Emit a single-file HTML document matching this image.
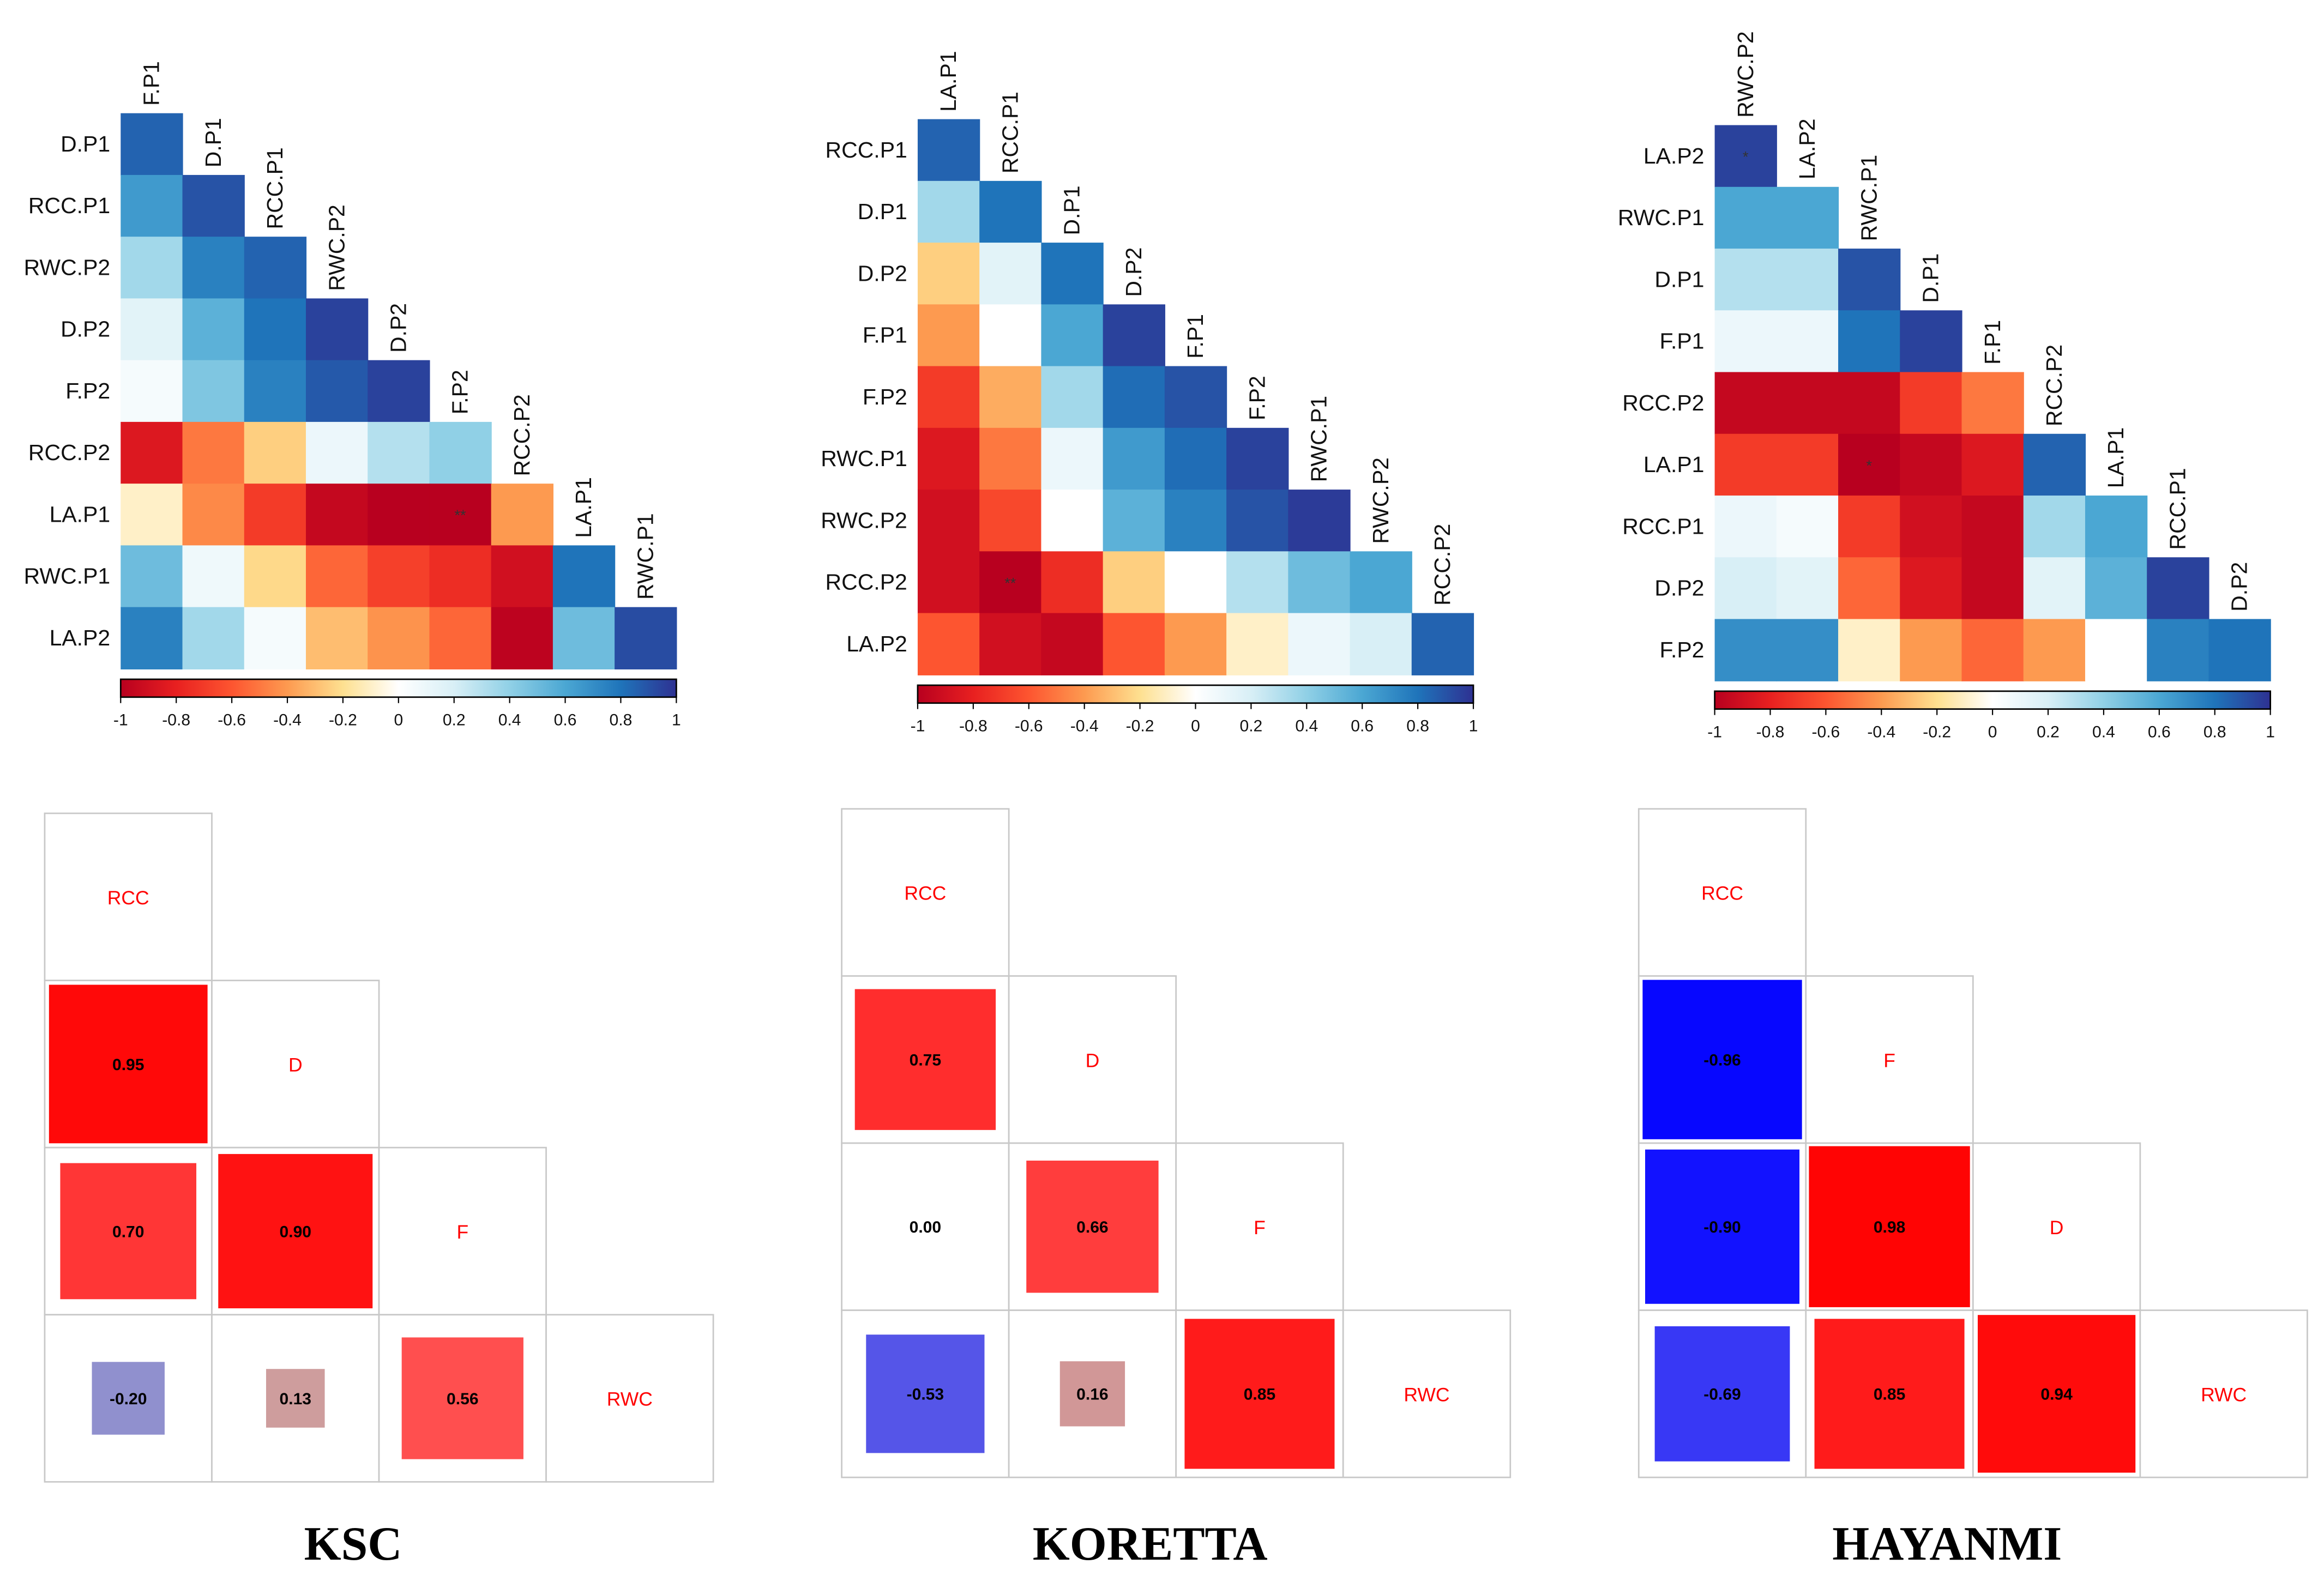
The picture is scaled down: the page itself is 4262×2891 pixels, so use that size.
<!DOCTYPE html>
<html><head><meta charset="utf-8"><style>
html,body{margin:0;padding:0;background:#fff;}
svg{display:block;}
</style></head><body>
<svg id="fig" xmlns="http://www.w3.org/2000/svg" width="4262" height="2891" viewBox="0 0 1560 1058" preserveAspectRatio="none" font-family="'Liberation Sans', sans-serif">
<defs>
<linearGradient id="cbar" x1="0" x2="1" y1="0" y2="0">
<stop offset="0" stop-color="#b8001f"/><stop offset="0.1" stop-color="#e82020"/><stop offset="0.2" stop-color="#fd5530"/><stop offset="0.3" stop-color="#fd9a50"/><stop offset="0.4" stop-color="#fee090"/><stop offset="0.5" stop-color="#ffffff"/><stop offset="0.6" stop-color="#d8eff6"/><stop offset="0.7" stop-color="#90d0e6"/><stop offset="0.8" stop-color="#4ba7d3"/><stop offset="0.9" stop-color="#1f74ba"/><stop offset="1" stop-color="#2e3192"/>
</linearGradient>
</defs>
</svg>
<script>
// ---- heatmap data ----
const kscRows = ["D.P1","RCC.P1","RWC.P2","D.P2","F.P2","RCC.P2","LA.P1","RWC.P1","LA.P2"];
const kscCols = ["F.P1","D.P1","RCC.P1","RWC.P2","D.P2","F.P2","RCC.P2","LA.P1","RWC.P1"];
const kscVals = [
 [0.85],
 [0.65,0.9],
 [0.35,0.75,0.85],
 [0.15,0.55,0.8,0.95],
 [0.05,0.45,0.75,0.88,0.95],
 [-0.85,-0.5,-0.25,0.1,0.3,0.4],
 [-0.1,-0.45,-0.7,-0.95,-1,-1,-0.4],
 [0.5,0.08,-0.22,-0.55,-0.68,-0.75,-0.9,0.8],
 [0.75,0.35,0.05,-0.3,-0.42,-0.55,-0.98,0.5,0.92]
];
const korRows = ["RCC.P1","D.P1","D.P2","F.P1","F.P2","RWC.P1","RWC.P2","RCC.P2","LA.P2"];
const korCols = ["LA.P1","RCC.P1","D.P1","D.P2","F.P1","F.P2","RWC.P1","RWC.P2","RCC.P2"];
const korVals = [
 [0.85],
 [0.35,0.8],
 [-0.25,0.15,0.8],
 [-0.4,0.0,0.6,0.95],
 [-0.7,-0.35,0.35,0.82,0.9],
 [-0.85,-0.5,0.1,0.65,0.82,0.95],
 [-0.9,-0.65,0.0,0.55,0.75,0.9,0.97],
 [-0.9,-1.0,-0.75,-0.25,0.0,0.3,0.5,0.6],
 [-0.6,-0.9,-0.95,-0.6,-0.4,-0.1,0.1,0.2,0.85]
];
const hayRows = ["LA.P2","RWC.P1","D.P1","F.P1","RCC.P2","LA.P1","RCC.P1","D.P2","F.P2"];
const hayCols = ["RWC.P2","LA.P2","RWC.P1","D.P1","F.P1","RCC.P2","LA.P1","RCC.P1","D.P2"];
const hayVals = [
 [0.95],
 [0.6,0.6],
 [0.3,0.3,0.9],
 [0.1,0.1,0.8,0.95],
 [-0.95,-0.95,-0.95,-0.7,-0.5],
 [-0.7,-0.7,-1.0,-0.95,-0.85,0.85],
 [0.1,0.05,-0.7,-0.9,-0.95,0.35,0.6],
 [0.2,0.15,-0.55,-0.85,-0.95,0.15,0.55,0.95],
 [0.7,0.7,-0.1,-0.4,-0.55,-0.4,0.0,0.75,0.8]
];
const cbTicks = ["-1","-0.8","-0.6","-0.4","-0.2","0","0.2","0.4","0.6","0.8","1"];
// ---- bottom correlogram data ----
const vars1 = ["RCC","D","F","RWC"];
const ksc2 = [[],[0.95],[0.70,0.90],[-0.20,0.13,0.56]];
const vars2 = ["RCC","D","F","RWC"];
const kor2 = [[],[0.75],[0.00,0.66],[-0.53,0.16,0.85]];
const vars3 = ["RCC","F","D","RWC"];
const hay2 = [[],[-0.96],[-0.90,0.98],[-0.69,0.85,0.94]];
const titles = ["KSC","KORETTA","HAYANMI"];

const NS="http://www.w3.org/2000/svg";
const svg=document.getElementById('fig');
function mk(tag,attrs,parent){const e=document.createElementNS(NS,tag);for(const k in attrs)e.setAttribute(k,attrs[k]);(parent||svg).appendChild(e);return e;}

const stops=[[-1,[184,0,31]],[-0.8,[232,32,32]],[-0.6,[253,85,48]],[-0.4,[253,154,80]],[-0.2,[254,224,144]],[0,[255,255,255]],[0.2,[216,239,246]],[0.4,[144,208,230]],[0.6,[75,167,211]],[0.8,[31,116,186]],[1,[46,49,146]]];
function heatColor(v){
  for(let i=0;i<stops.length-1;i++){const a=stops[i],b=stops[i+1];
    if(v<=b[0]){const t=(v-a[0])/(b[0]-a[0]);const c=a[1].map((x,k)=>Math.round(x+(b[1][k]-x)*t));return `rgb(${c})`;}}
  return 'rgb(46,49,146)';
}

function heatmap(name,rows,cols,vals,x0,y0,w,stars){
  const g=mk('g',{});
  
  
  const n=rows.length, cs=w/n;
  const sx=v=>x0+v*cs, sy=v=>y0+v*cs;
  vals.forEach((row,i)=>row.forEach((v,j)=>{
    const r=mk('rect',{x:sx(j),y:sy(i),width:cs+0.4,height:cs+0.4,fill:heatColor(v)},g);
    
    
  }));
  rows.forEach((lab,i)=>{
    const t=mk('text',{x:x0-7,y:sy(i)+cs/2+5,'text-anchor':'end','font-size':15,fill:'#111'},g);t.textContent=lab;
    
    
  });
  cols.forEach((lab,j)=>{
    const cx=sx(j)+cs/2+5, yy=sy(j)-5;
    const t=mk('text',{x:cx,y:yy,transform:`rotate(-90 ${cx} ${yy})`,'font-size':15,fill:'#111'},g);t.textContent=lab;
    
    
  });
  stars.forEach(s=>{const t=mk('text',{x:sx(s[1])+cs/2,y:sy(s[0])+cs/2+4,'text-anchor':'middle','font-size':10,fill:'#333'},g);t.textContent=s[2];
    
    });
  const cy=y0+w+7;
  const cb=mk('rect',{x:x0,y:cy,width:w,height:12,fill:'url(#cbar)',stroke:'#000','stroke-width':1},g);
  
  
  cbTicks.forEach((lab,k)=>{
    const tx=x0+k*w/(cbTicks.length-1);
    mk('line',{x1:tx,x2:tx,y1:cy+12,y2:cy+16,stroke:'#000','stroke-width':0.8},g);
    const t=mk('text',{x:tx,y:cy+31,'text-anchor':'middle','font-size':11,fill:'#111'},g);t.textContent=lab;
    
    
  });
}
heatmap('ksc',kscRows,kscCols,kscVals,81,76,373,[[6,5,'**']]);
heatmap('koretta',korRows,korCols,korVals,616,80,373,[[7,1,'**']]);
heatmap('hayanmi',hayRows,hayCols,hayVals,1151,84,373,[[0,0,'*'],[5,2,'*']]);

function boxColor(r){
  const a=Math.abs(r), lo=Math.max(0,Math.round(180*(1-a)));
  if(r>=0){const hi=Math.min(255,Math.round(190+120*a));return `rgb(${hi},${lo},${lo})`;}
  const hi=Math.min(255,Math.round(190+80*a));return `rgb(${lo},${lo},${hi})`;
}
function corrgram(name,vars,vals,x0,y0,cs,title){
  const g=mk('g',{});
  
  
  const n=vars.length;
  for(let i=0;i<n;i++)for(let j=0;j<=i;j++){
    const x=x0+j*cs,y=y0+i*cs;
    const c=mk('rect',{x:x,y:y,width:cs,height:cs,fill:'#fff',stroke:'#c8c8c8','stroke-width':1},g);
    
    
    if(i===j){
      const t=mk('text',{x:x+cs/2,y:y+cs/2+5,'text-anchor':'middle','font-size':13,fill:'#ff0000'},g);t.textContent=vars[i];
      
      
    } else {
      const r=vals[i][j], s=Math.sqrt(Math.abs(r))*(cs-3);
      if(s>0){const b=mk('rect',{x:x+cs/2-s/2,y:y+cs/2-s/2,width:s,height:s,fill:boxColor(r)},g);
        
        }
      const t=mk('text',{x:x+cs/2,y:y+cs/2+4,'text-anchor':'middle','font-size':11,'font-weight':'bold',fill:'#000'},g);t.textContent=r.toFixed(2);
      
      
    }
  }
  const t=mk('text',{x:x0+207,y:1047,'text-anchor':'middle','font-size':32,'font-weight':'bold','font-family':"'Liberation Serif', serif",fill:'#000'},g);
  t.textContent=title;
  
  
}
corrgram('ksc',vars1,ksc2,30,546,112.2,titles[0]);
corrgram('koretta',vars2,kor2,565,543,112.2,titles[1]);
corrgram('hayanmi',vars3,hay2,1100,543,112.2,titles[2]);
</script>
</body></html>
